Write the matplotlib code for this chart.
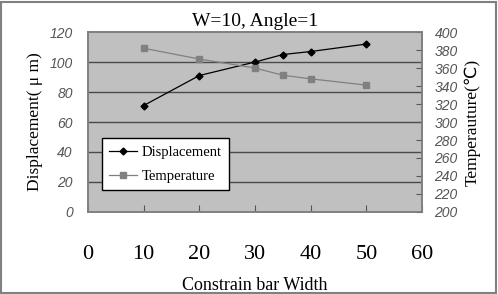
import matplotlib.pyplot as plt
from matplotlib.patches import Rectangle

# data
width = [10, 20, 30, 35, 40, 50]
displacement = [71, 91, 100, 105, 107, 112]
temperature = [382, 370, 360, 352, 348, 341]

x_ticks = [0, 10, 20, 30, 40, 50, 60]
disp_ticks = [0, 20, 40, 60, 80, 100, 120]
temp_ticks = list(range(200, 401, 20))

serif = "Liberation Serif"
tick_font = dict(family="Liberation Sans", style="italic", size=10, color="#555555")

fig = plt.figure(figsize=(4.98, 2.94), dpi=100)
ax = fig.add_axes([0.1767, 0.279, 0.6707, 0.612])
ax2 = ax.twinx()

ax.set_facecolor("#c0c0c0")
ax.set_xlim(0, 60)
ax.set_ylim(0, 120)
ax2.set_ylim(200, 400)

# horizontal grid lines
for v in disp_ticks[1:-1]:
    ax.axhline(v, color="#4a4a4a", lw=1.0, zorder=1)

l1, = ax.plot(width, displacement, color="black", lw=0.9, marker="D",
              markersize=3.5, zorder=3, label="Displacement")
l2, = ax2.plot(width, temperature, color="#808080", lw=0.9, marker="s",
               markersize=4.5, zorder=3, label="Temperature")

for a in (ax, ax2):
    for s in a.spines.values():
        s.set_color("#808080")
        s.set_linewidth(1.2)

ax.set_xticks(x_ticks)
ax.set_xticklabels([str(t) for t in x_ticks], family=serif, size=16)
ax.tick_params(axis="x", direction="in", length=5, color="#555555", pad=24)
ax.set_yticks(disp_ticks)
ax.set_yticklabels([str(t) for t in disp_ticks], **tick_font)
ax.tick_params(axis="y", length=0, pad=11)
ax2.set_yticks(temp_ticks)
ax2.set_yticklabels([str(t) for t in temp_ticks], **tick_font)
ax2.tick_params(axis="y", direction="in", length=4, color="#555555", pad=9)

ax.set_xlabel("Constrain bar Width", family=serif, size=13, labelpad=9)
ax.set_ylabel("Displacement( \u03bc m)", family=serif, size=12.5, labelpad=5)
ax2.set_ylabel("Temperauture(\u2103)", family=[serif, "DejaVu Sans"], size=12.5,
               labelpad=5)
ax.set_title("W=10, Angle=1", family=serif, size=14, pad=4)

leg = ax.legend(handles=[l1, l2], loc="lower left",
                bbox_to_anchor=(0.042, 0.12), prop=dict(family=serif, size=10.5),
                frameon=True, fancybox=False, borderpad=0.5, handlelength=1.9,
                handletextpad=0.3, labelspacing=0.75, borderaxespad=0)
leg.get_frame().set_edgecolor("black")
leg.get_frame().set_linewidth(1.0)
leg.get_frame().set_facecolor("white")
leg.get_frame().set_alpha(1)

# thin grey frame around the whole figure
fig.patches.append(Rectangle((0.002, 0.003), 0.994, 0.99, transform=fig.transFigure,
                             fill=False, edgecolor="#808080", lw=1.5))

fig.savefig("out.png", dpi=100)
